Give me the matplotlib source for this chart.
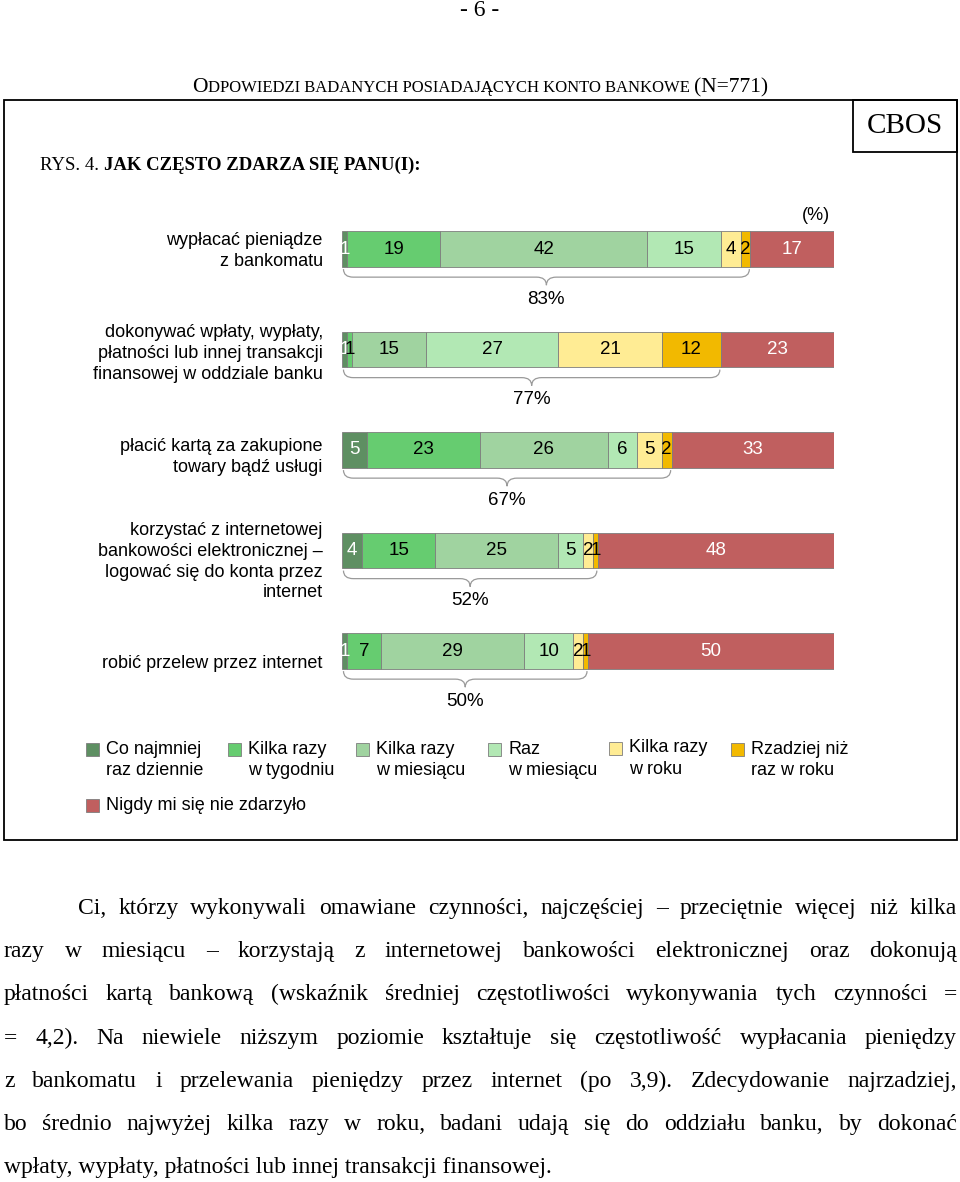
import matplotlib
matplotlib.use("Agg")
import matplotlib.pyplot as plt
from matplotlib.patches import Rectangle, PathPatch
from matplotlib.path import Path
from matplotlib.font_manager import FontProperties

# ---------------- data ----------------
categories = [
    "wypłacać pieniądze\nz bankomatu",
    "dokonywać wpłaty, wypłaty,\npłatności lub innej transakcji\nfinansowej w oddziale banku",
    "płacić kartą za zakupione\ntowary bądź usługi",
    "korzystać z internetowej\nbankowości elektronicznej –\nlogować się do konta przez\ninternet",
    "robić przelew przez internet",
]
series_labels = [
    "Co najmniej\nraz dziennie",
    "Kilka razy\nw tygodniu",
    "Kilka razy\nw miesiącu",
    "Raz\nw miesiącu",
    "Kilka razy\nw roku",
    "Rzadziej niż\nraz w roku",
    "Nigdy mi się nie zdarzyło",
]
daily = [1, 1, 5, 4, 1]
weekly = [19, 1, 23, 15, 7]
monthly_few = [42, 15, 26, 25, 29]
monthly_once = [15, 27, 6, 5, 10]
yearly_few = [4, 21, 5, 2, 2]
rarer = [2, 12, 2, 1, 1]
never = [17, 23, 33, 48, 50]
total_yes = [83, 77, 67, 52, 50]

series_values = [daily, weekly, monthly_few, monthly_once, yearly_few, rarer, never]
series_colors = ["#5E8F62", "#66CC70", "#A0D3A0", "#B2E8B4", "#FFEC94", "#F2B900", "#C05F5F"]
label_colors = ["white", "black", "black", "black", "black", "black", "white"]

title_header = "- 6 -"
subtitle_parts = [("O", 15.5), ("DPOWIEDZI BADANYCH POSIADAJĄCYCH KONTO BANKOWE ", 12), ("(N=771)", 15.5)]
rys_regular = "RYS. 4. "
rys_bold = "JAK CZĘSTO ZDARZA SIĘ PANU(I):"

paragraph = [
    "Ci, którzy wykonywali omawiane czynności, najczęściej – przeciętnie więcej niż kilka",
    "razy w miesiącu – korzystają z internetowej bankowości elektronicznej oraz dokonują",
    "płatności kartą bankową (wskaźnik średniej częstotliwości wykonywania tych czynności =",
    "= 4,2). Na niewiele niższym poziomie kształtuje się częstotliwość wypłacania pieniędzy",
    "z bankomatu i przelewania pieniędzy przez internet (po 3,9). Zdecydowanie najrzadziej,",
    "bo średnio najwyżej kilka razy w roku, badani udają się do oddziału banku, by dokonać",
    "wpłaty, wypłaty, płatności lub innej transakcji finansowej.",
]

# ---------------- figure ----------------
W, H, DPI = 960, 1182, 100
fig = plt.figure(figsize=(W / DPI, H / DPI), dpi=DPI)
fig.patch.set_facecolor("white")
renderer = fig.canvas.get_renderer()

SANS = "Liberation Sans"
SERIF = "Liberation Serif"
FS = 13


def fx(x):
    return x / W


def fy(y):
    return 1 - y / H


def tw(s, fp):
    w, h, d = renderer.get_text_width_height_descent(s, fp, ismath=False)
    return w


# frame and CBOS box
fig.add_artist(Rectangle((fx(4), fy(840)), fx(957) - fx(4), fy(100) - fy(840),
                         transform=fig.transFigure, fill=False, lw=1.3, ec="black"))
fig.add_artist(Rectangle((fx(853), fy(152)), fx(957) - fx(853), fy(100) - fy(152),
                         transform=fig.transFigure, fill=False, lw=1.3, ec="black"))
fig.text(fx(905), fy(126), "CBOS", family=SERIF, fontsize=21, ha="center", va="center")

# page header
fig.text(fx(480), fy(11), title_header, family=SERIF, fontsize=17, ha="center", va="center")

# subtitle with small caps look
fps = [FontProperties(family=SERIF, size=s) for _, s in subtitle_parts]
widths = [tw(t, fp) for (t, _), fp in zip(subtitle_parts, fps)]
x = 480 - sum(widths) / 2
for (t, s), w in zip(subtitle_parts, widths):
    fig.text(fx(x), fy(92), t, family=SERIF, fontsize=s, ha="left", va="baseline")
    x += w

# RYS line
fp_r = FontProperties(family=SERIF, size=13.5)
fig.text(fx(40), fy(170), rys_regular, family=SERIF, fontsize=13.5, ha="left", va="baseline")
fig.text(fx(40 + tw(rys_regular, fp_r)), fy(170), rys_bold, family=SERIF, fontsize=13.5,
         fontweight="bold", ha="left", va="baseline")

fig.text(fx(816), fy(215), "(%)", family=SANS, fontsize=FS, ha="center", va="center")

# ---------------- bar chart ----------------
ax = fig.add_axes([fx(342), fy(701.25), 492 / W, 502.5 / H])
ax.set_xlim(0, 100)
ax.set_ylim(len(categories) - 0.5, -0.5)
ax.axis("off")

ypos = list(range(len(categories)))
bar_h = 0.35
lefts = [0.0] * len(categories)
for vals, col, lc in zip(series_values, series_colors, label_colors):
    ax.barh(ypos, vals, left=lefts, height=bar_h, color=col, edgecolor="#7d7d7d", linewidth=0.6)
    for i, v in enumerate(vals):
        ax.text(lefts[i] + v / 2, ypos[i], str(v), ha="center", va="center",
                family=SANS, fontsize=13.5, color=lc)
    lefts = [l + v for l, v in zip(lefts, vals)]

# category labels
label_offsets = [0.02, 0.04, 0.07, 0.11, 0.12]
for i, cat in enumerate(categories):
    ax.text(-3.9, ypos[i] + label_offsets[i], cat, ha="right", va="center", family=SANS,
            fontsize=FS, linespacing=1.3, clip_on=False, multialignment="right")


# braces
def brace(ax, x0, x1, yc):
    yt = yc + 0.20
    ym = yc + 0.28
    ytip = yc + 0.36
    d = 2.0
    xm = (x0 + x1) / 2
    verts = [(x0, yt), (x0, ym), (x0 + d, ym), (xm - d, ym), (xm, ym), (xm, ytip),
             (xm, ym), (xm + d, ym), (x1 - d, ym), (x1, ym), (x1, yt)]
    codes = [Path.MOVETO, Path.CURVE3, Path.CURVE3, Path.LINETO, Path.CURVE3, Path.CURVE3,
             Path.CURVE3, Path.CURVE3, Path.LINETO, Path.CURVE3, Path.CURVE3]
    ax.add_patch(PathPatch(Path(verts, codes), fill=False, ec="#9a9a9a", lw=0.9, clip_on=False))


for i, t in enumerate(total_yes):
    brace(ax, 0.3, t - 0.2, ypos[i])
    ax.text(t / 2, ypos[i] + 0.50, f"{t}%", ha="center", va="center", family=SANS, fontsize=13.5)

# ---------------- legend ----------------
leg_x = [86, 228, 356, 488, 609, 731, 86]
leg_y = [749, 749, 749, 749, 748, 749, 805]
for lab, col, lx, ly in zip(series_labels, series_colors, leg_x, leg_y):
    fig.add_artist(Rectangle((fx(lx), fy(ly + 6.5)), 13 / W, 13 / H, transform=fig.transFigure,
                             facecolor=col, edgecolor="#7d7d7d", lw=0.6))
    for j, line in enumerate(lab.split("\n")):
        fig.text(fx(lx + 20), fy(ly + 21.5 * j), line, family=SANS, fontsize=FS,
                 ha="left", va="center")

# ---------------- paragraph (justified) ----------------
line_starts = [78, 4, 4, 4, 4, 4, 4]
right_edge = 957
fs = 17.0
while fs > 8:
    fp = FontProperties(family=SERIF, size=fs)
    ok = all(tw(l, fp) <= right_edge - s for l, s in zip(paragraph, line_starts))
    if ok:
        break
    fs -= 0.25
fp = FontProperties(family=SERIF, size=fs)
base0 = 914
lstep = 43.2
for k, (line, xs) in enumerate(zip(paragraph, line_starts)):
    yb = base0 + lstep * k
    words = line.split(" ")
    if k == len(paragraph) - 1:
        fig.text(fx(xs), fy(yb), line, family=SERIF, fontsize=fs, ha="left", va="baseline")
        continue
    ws = [tw(w, fp) for w in words]
    gap = (right_edge - xs - sum(ws)) / (len(words) - 1)
    x = xs
    for w, wd in zip(words, ws):
        fig.text(fx(x), fy(yb), w, family=SERIF, fontsize=fs, ha="left", va="baseline")
        x += wd + gap

fig.savefig("out.png", dpi=DPI, facecolor="white")
